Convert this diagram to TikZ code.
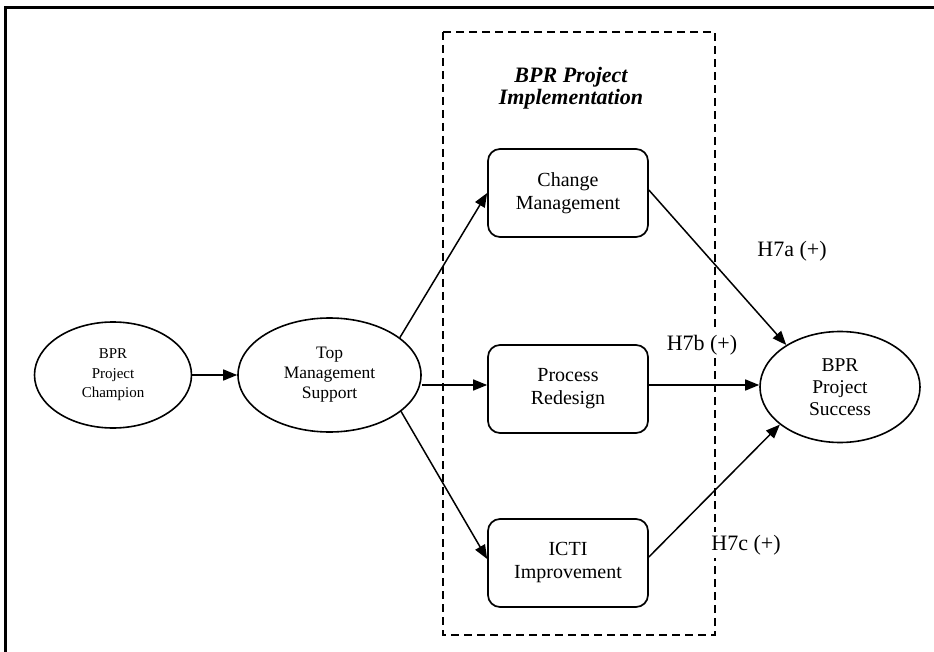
\documentclass[tikz,border=0pt]{standalone}
\usepackage{fontspec}
\setmainfont{Liberation Serif}
\usetikzlibrary{shapes.geometric,arrows.meta}

\begin{document}
\begin{tikzpicture}[x=1pt,y=-1pt,
  construct/.style={ellipse,draw,line width=1.6pt,inner sep=0pt,align=center},
  stagebox/.style={rectangle,rounded corners=12pt,draw,line width=1.7pt,
    minimum width=160pt,minimum height=88pt,inner sep=0pt,align=center,
    font=\fontsize{20}{23}\selectfont},
  link/.style={line width=1.5pt,-{Triangle[length=14pt,width=11pt]}},
  hyplabel/.style={fill=white,inner sep=3pt,font=\fontsize{22}{24}\selectfont}]

\useasboundingbox (0,0) rectangle (934,652);

% outer frame (top and left edges)
\draw[line width=3pt] (5,652) -- (5,8) -- (934,8);

% implementation group
\draw[line width=1.5pt,dash pattern=on 8pt off 5pt] (443,32) rectangle (715,635);
\node[align=center,font=\fontsize{22}{21.5}\selectfont\bfseries\itshape] (title) at (571,88)
  {BPR Project\\Implementation};

% constructs
\node[construct,minimum width=157pt,minimum height=106pt,
  font=\fontsize{15}{19.5}\selectfont] (champ) at (113,375) {BPR\\Project\\Champion};
\node[construct,minimum width=183pt,minimum height=114pt,
  font=\fontsize{17.5}{20}\selectfont] (tms) at (329.5,375) {Top\\Management\\Support};
\node[construct,minimum width=160pt,minimum height=111pt,
  font=\fontsize{19.5}{22}\selectfont] (succ) at (840,387) {BPR\\Project\\Success};

\node[stagebox] (change) at (568,193) {Change\\Management};
\node[stagebox] (proc) at (568,389) {Process\\Redesign};
\node[stagebox] (icti) at (568,563) {ICTI\\Improvement};

% level of the straight middle path
\coordinate (mid) at ([yshift=4pt]proc.west);

% connectors
\draw[link] (champ) -- (tms);
\draw[link] (tms.28) -- (change.west);
\draw[link] (tms.east |- mid) -- (mid);
\draw[link] (tms.-27) -- ([yshift=4pt]icti.west);

% hypothesis labels (white background breaks the dashed edge)
\node[hyplabel] (h7b) at (702,345) {H7b (+)};
\node[hyplabel] (h7c) at (746,545) {H7c (+)};
\node[hyplabel] (h7a) at (792,251) {H7a (+)};

\draw[link] ([yshift=3pt]change.east) -- (succ.142);
\draw[link] (proc.east |- mid) -- (succ.west |- mid);
\draw[link] ([yshift=6pt]icti.east) -- (succ.212);

\end{tikzpicture}
\end{document}
